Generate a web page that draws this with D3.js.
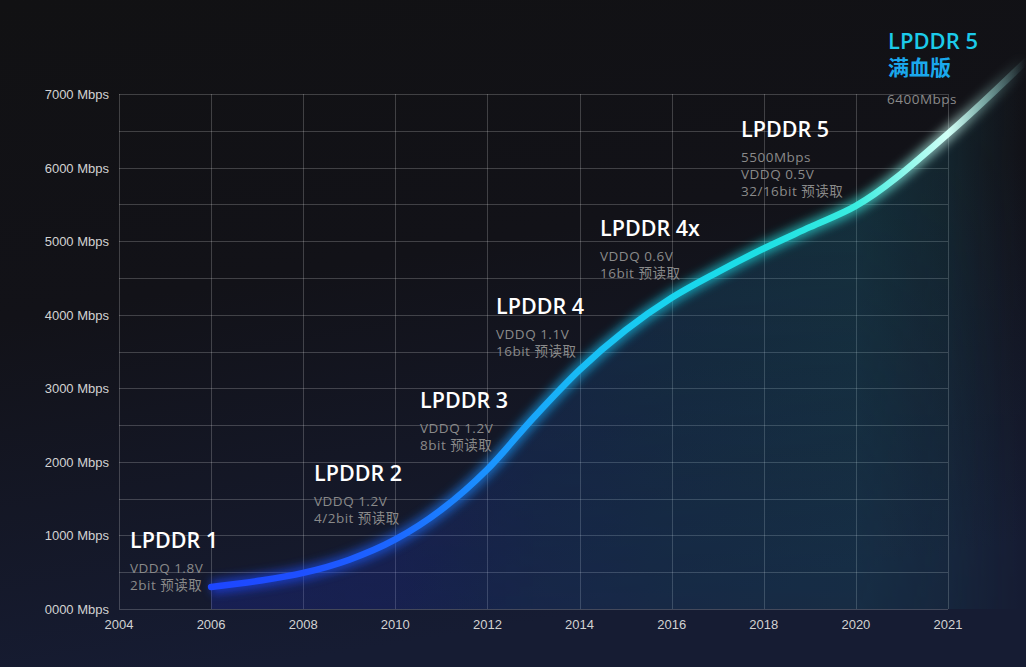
<!DOCTYPE html>
<html>
<head>
<meta charset="utf-8">
<script src="https://cdn.jsdelivr.net/npm/d3@7"></script>
<style>
  body { margin: 0; background: #111113; }
  svg { display: block; }
</style>
</head>
<body>
<script>
// axis ticks (the original spaces them evenly, 2020 -> 2021 is one full step)
var xTicks = [2004, 2006, 2008, 2010, 2012, 2014, 2016, 2018, 2020, 2021];
var yTicks = [0, 1000, 2000, 3000, 4000, 5000, 6000, 7000];

// speed curve (Mbps)
var years  = [2006, 2007, 2008, 2009, 2010, 2011, 2012, 2013, 2014, 2015, 2016, 2017, 2018, 2019, 2020, 2021, 2021.85];
var speeds = [300, 380, 490, 670, 945, 1350, 1900, 2600, 3250, 3790, 4230, 4580, 4900, 5190, 5480, 6460, 7450];

// generation labels
var gens = ["LPDDR 1", "LPDDR 2", "LPDDR 3", "LPDDR 4", "LPDDR 4x", "LPDDR 5"];
var notes = [
	["VDDQ 1.8V", "2bit 预读取"],
	["VDDQ 1.2V", "4/2bit 预读取"],
	["VDDQ 1.2V", "8bit 预读取"],
	["VDDQ 1.1V", "16bit 预读取"],
	["VDDQ 0.6V", "16bit 预读取"],
	["5500Mbps", "VDDQ 0.5V", "32/16bit 预读取"]
];
var topTitle = ["LPDDR 5", "满血版"];
var topNote = "6400Mbps";

// size variables
var w = 1026,
    h = 667,
    plotLeft = 119,
    plotRight = 948,
    plotTop = 94,
    plotBottom = 609;

var svg = d3.select("body")
	.append("svg")
	.attr("width", w)
	.attr("height", h);

var defs = svg.append("defs");

// background gradient
var bg = defs.append("linearGradient")
	.attr("id", "bg")
	.attr("x1", 0).attr("y1", 0).attr("x2", 0.25).attr("y2", 1);
bg.append("stop").attr("offset", "0%").attr("stop-color", "#111113");
bg.append("stop").attr("offset", "45%").attr("stop-color", "#121218");
bg.append("stop").attr("offset", "100%").attr("stop-color", "#161c33");

svg.append("rect")
	.attr("width", w)
	.attr("height", h)
	.attr("fill", "url(#bg)");

// scales
var xScale = d3.scaleLinear()
	.domain(xTicks)
	.range(xTicks.map(function(d, i) { return plotLeft + i * (plotRight - plotLeft) / (xTicks.length - 1); }));

var yScale = d3.scaleLinear()
	.domain([0, 7000])
	.range([plotBottom, plotTop]);

// grid
var grid = svg.append("g").attr("class", "grid");
grid.selectAll("line.h")
	.data(yScale.ticks(14))
	.enter()
	.append("line")
	.attr("class", "h")
	.attr("x1", plotLeft).attr("x2", plotRight)
	.attr("y1", function(d) { return Math.round(yScale(d)) + 0.5; })
	.attr("y2", function(d) { return Math.round(yScale(d)) + 0.5; })
	.attr("stroke", "rgba(255,255,255,0.2)");
grid.selectAll("line.v")
	.data(xTicks)
	.enter()
	.append("line")
	.attr("class", "v")
	.attr("x1", function(d) { return Math.round(xScale(d)) + 0.5; })
	.attr("x2", function(d) { return Math.round(xScale(d)) + 0.5; })
	.attr("y1", plotTop).attr("y2", plotBottom)
	.attr("stroke", "rgba(255,255,255,0.2)");

// curve data
var curveData = years.map(function(d, i) { return [d, speeds[i]]; });

// colour of area under the curve
var areaFill = defs.append("linearGradient")
	.attr("id", "areaFill")
	.attr("gradientUnits", "userSpaceOnUse")
	.attr("x1", xScale(2006)).attr("x2", w).attr("y1", 0).attr("y2", 0);
var areaStops = [
	[2006, "#2030d0", 0.38],
	[2010, "#2038c8", 0.34],
	[2013, "#1d58b0", 0.3],
	[2016, "#1a6a9c", 0.3],
	[2020, "#1a7a94", 0.3],
	[2021, "#1a7488", 0.2]
];
var areaSpan = w - xScale(2006);
areaStops.forEach(function(s) {
	areaFill.append("stop")
		.attr("offset", (xScale(s[0]) - xScale(2006)) / areaSpan)
		.attr("stop-color", s[1])
		.attr("stop-opacity", s[2]);
});
areaFill.append("stop").attr("offset", 1).attr("stop-color", "#1a6070").attr("stop-opacity", 0);

// vertical fade mask for the area
var fade = defs.append("linearGradient")
	.attr("id", "fade")
	.attr("gradientUnits", "userSpaceOnUse")
	.attr("x1", 0).attr("x2", 0).attr("y1", plotTop).attr("y2", plotBottom);
fade.append("stop").attr("offset", 0).attr("stop-color", "#fff");
fade.append("stop").attr("offset", 1).attr("stop-color", "#999");
defs.append("mask")
	.attr("id", "areaMask")
	.attr("maskUnits", "userSpaceOnUse")
	.attr("x", 0).attr("y", 0).attr("width", w).attr("height", h)
	.append("rect")
	.attr("width", w).attr("height", h)
	.attr("fill", "url(#fade)");

var area = d3.area()
	.x(function(d) { return xScale(d[0]); })
	.y0(plotBottom)
	.y1(function(d) { return yScale(d[1]); })
	.curve(d3.curveMonotoneX);

svg.append("path")
	.datum(curveData)
	.attr("d", area)
	.attr("fill", "url(#areaFill)")
	.attr("mask", "url(#areaMask)");

// stroke colour along the curve
var lineGrad = defs.append("linearGradient")
	.attr("id", "lineGrad")
	.attr("gradientUnits", "userSpaceOnUse")
	.attr("x1", xScale(2006) - 4).attr("x2", w).attr("y1", 0).attr("y2", 0);
var lineStops = [
	[2006, "#1d46ff", 1],
	[2008, "#1e50ff", 1],
	[2010, "#1c68ff", 1],
	[2012, "#1a92ff", 1],
	[2014, "#18bcf6", 1],
	[2016, "#18d5ef", 1],
	[2018, "#1ee0e4", 1],
	[2020, "#3aede0", 1],
	[2020.7, "#a6fbef", 1],
	[2021, "#d2fff6", 1],
	[2021.4, "#a0dcd4", 0.6]
];
var lineSpan = w - (xScale(2006) - 4);
lineStops.forEach(function(s) {
	lineGrad.append("stop")
		.attr("offset", (xScale(s[0]) - xScale(2006) + 4) / lineSpan)
		.attr("stop-color", s[1])
		.attr("stop-opacity", s[2]);
});
lineGrad.append("stop").attr("offset", 1).attr("stop-color", "#80c0c0").attr("stop-opacity", 0);

// glow filter
var glow = defs.append("filter")
	.attr("id", "glow")
	.attr("filterUnits", "userSpaceOnUse")
	.attr("x", 0).attr("y", 0).attr("width", w).attr("height", h);
glow.append("feGaussianBlur").attr("stdDeviation", 5);

var line = d3.line()
	.x(function(d) { return xScale(d[0]); })
	.y(function(d) { return yScale(d[1]); })
	.curve(d3.curveMonotoneX);

// soft glow under the line
svg.append("path")
	.datum(curveData)
	.attr("d", line)
	.attr("fill", "none")
	.attr("stroke", "url(#lineGrad)")
	.attr("stroke-width", 14)
	.attr("opacity", 0.6)
	.attr("filter", "url(#glow)");

// the line itself
svg.append("path")
	.datum(curveData)
	.attr("d", line)
	.attr("fill", "none")
	.attr("stroke", "url(#lineGrad)")
	.attr("stroke-width", 6.5)
	.attr("stroke-linecap", "round");

// axes labels
var tickFont = "'Liberation Sans', Arial, sans-serif";
svg.append("g")
	.selectAll("text")
	.data(yTicks)
	.enter()
	.append("text")
	.attr("x", plotLeft - 10)
	.attr("y", function(d) { return yScale(d) + 5; })
	.attr("text-anchor", "end")
	.attr("font-family", tickFont)
	.attr("font-size", 13)
	.attr("fill", "#d2d2d2")
	.text(function(d) { return d3.format("04")(d) + " Mbps"; });

svg.append("g")
	.selectAll("text")
	.data(xTicks)
	.enter()
	.append("text")
	.attr("x", function(d) { return xScale(d); })
	.attr("y", plotBottom + 20)
	.attr("text-anchor", "middle")
	.attr("font-family", tickFont)
	.attr("font-size", 13)
	.attr("fill", "#d2d2d2")
	.text(function(d) { return d; });

// generation labels
var labelFont = "'Open Sans', 'Noto Sans CJK SC', sans-serif";
var labelPos = [[130, 548], [314, 481], [420, 408], [496, 314], [600, 236], [741, 137]];

var labels = svg.selectAll(".gen")
	.data(gens)
	.enter()
	.append("g")
	.attr("class", "gen")
	.attr("transform", function(d, i) { return "translate(" + labelPos[i][0] + "," + labelPos[i][1] + ")"; });

labels.append("text")
	.attr("font-family", labelFont)
	.attr("font-size", 21.5)
	.attr("font-weight", 600)
	.attr("fill", "#ffffff")
	.text(function(d) { return d; });

labels.each(function(d, i) {
	d3.select(this).selectAll(".note")
		.data(notes[i])
		.enter()
		.append("text")
		.attr("class", "note")
		.attr("y", function(n, j) { return 25 + j * 16.8; })
		.attr("font-family", labelFont)
		.attr("font-size", 13.5)
		.attr("letter-spacing", 0.5)
		.attr("fill", "#8a8a8a")
		.text(function(n) { return n; });
});

// LPDDR 5 full speed label, top right
svg.append("text")
	.attr("x", 888)
	.attr("y", 49)
	.attr("font-family", labelFont)
	.attr("font-size", 22)
	.attr("font-weight", 600)
	.attr("fill", "#1ccbea")
	.text(topTitle[0]);
svg.append("text")
	.attr("x", 888)
	.attr("y", 75)
	.attr("font-family", labelFont)
	.attr("font-size", 21)
	.attr("font-weight", 700)
	.attr("fill", "#1aa8ec")
	.text(topTitle[1]);
svg.append("text")
	.attr("x", 887)
	.attr("y", 104)
	.attr("font-family", labelFont)
	.attr("font-size", 13.5)
	.attr("letter-spacing", 0.5)
	.attr("fill", "#8a8a8a")
	.text(topNote);
</script>
</body>
</html>
